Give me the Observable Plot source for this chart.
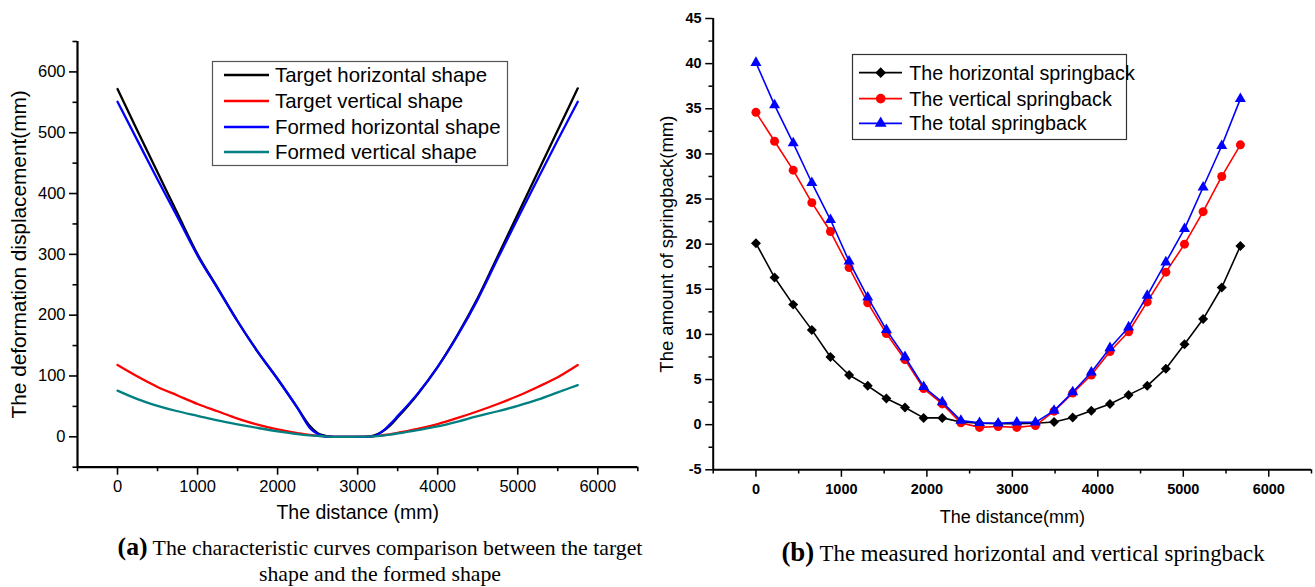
<!DOCTYPE html>
<html><head><meta charset="utf-8">
<script src="https://cdn.jsdelivr.net/npm/d3@7"></script>
<script src="https://cdn.jsdelivr.net/npm/@observablehq/plot@0.6"></script>
<style>
body{margin:0;background:#fff;}
#wrap{position:relative;width:1315px;height:587px;overflow:hidden;font-family:"Liberation Sans",Arial,sans-serif;background:#fff;}
.chart{position:absolute;top:0;}
.legend{position:absolute;overflow:visible;}
.caption{position:absolute;font-family:"Liberation Serif","Times New Roman",serif;text-align:center;line-height:26px;white-space:nowrap;color:#000;}
.caption b{font-size:1.18em;}
</style></head><body>
<div id="wrap">
  <div id="chartA" class="chart" style="left:0px"></div>
  <div id="chartB" class="chart" style="left:650px"></div>
  <svg id="legendA" class="legend" style="left:212px;top:61px" width="300" height="106"></svg>
  <svg id="legendB" class="legend" style="left:852px;top:54px" width="300" height="88"></svg>
  <div class="caption" style="left:80px;top:534px;width:600px;font-size:21.8px;"><b>(a)</b> The characteristic curves comparison between the target<br>shape and the formed shape</div>
  <div class="caption" style="left:723px;top:539px;width:600px;font-size:22.8px;"><b>(b)</b> The measured horizontal and vertical springback</div>
</div>
<script>
// ---------- (a) shape curves ----------
const shapeDistance = [0,250,500,750,1000,1250,1500,1750,2000,2250,2400,2500,2600,2700,2900,3100,3200,3300,3400,3500,3750,4000,4250,4500,4750,5000,5250,5500,5750];
const targetHorizontal = [572,503,435,367,300,245,190,140,95,47,18,6,1.5,0,0,0,2,8,18,32,70,115,168,228,297,366,435,504,573];
const targetVertical   = [118,99,82,68,54,42,30,20,12,6,3,1.8,0.8,0,0,0.3,1,2.5,4,6.5,13,21,31,42,54,67,82,98,118];
const formedHorizontal = [551,487,423,361,298,244,190,140,95,47,15,4.5,0.5,0,0,0,1,8,20,34,71,115,167,226,293,359,424,488,551];
const formedVertical   = [76,62,51,42,34.5,27,20.5,14.5,9,4.5,2.5,1.5,0.6,0,0,0.2,0.8,2,3.5,5.5,11,17,25,34,42,51,61,73,85];
const shapeNames  = ["Target horizontal shape","Target vertical shape","Formed horizontal shape","Formed vertical shape"];
const shapeColors = ["#000000","#ff0000","#0000ff","#008080"];
const shapeXTicks = [0,1000,2000,3000,4000,5000,6000];
const shapeYTicks = [0,100,200,300,400,500,600];

// ---------- (b) springback ----------
const springDistance = [0,218,436,654,872,1090,1308,1526,1744,1962,2180,2398,2616,2834,3052,3270,3488,3706,3924,4142,4360,4578,4796,5014,5232,5450,5668];
const horizontalSpringback = [20.1,16.3,13.3,10.5,7.5,5.5,4.3,2.9,1.9,0.75,0.75,0.3,0.15,0.1,0.1,0.15,0.3,0.8,1.55,2.3,3.3,4.3,6.2,8.9,11.7,15.2,19.8];
const verticalSpringback   = [34.6,31.4,28.2,24.6,21.4,17.4,13.5,10.1,7.2,4.0,2.3,0.2,-0.3,-0.2,-0.3,-0.1,1.5,3.5,5.5,8.1,10.3,13.6,16.9,20.0,23.6,27.5,31.0];
const totalSpringback      = [40.1,35.4,31.2,26.8,22.7,18.1,14.1,10.5,7.5,4.2,2.5,0.45,0.2,0.15,0.25,0.25,1.55,3.6,5.8,8.5,10.8,14.3,18.0,21.7,26.3,30.9,36.1];
const springNames   = ["The horizontal springback","The vertical springback","The total springback"];
const springColors  = ["#000000","#ff0000","#0000ff"];
const springSymbols = ["diamond2","circle","triangle"];
const springXTicks = [0,1000,2000,3000,4000,5000,6000];
const springYTicks = [-5,0,5,10,15,20,25,30,35,40,45];

const sans = "'Liberation Sans', Arial, sans-serif";
const plain = d => String(d);

// ---- chart A ----
const shapeSeries = [targetHorizontal, targetVertical, formedHorizontal, formedVertical];
const xMinorA = d3.range(-500, 6501, 500).filter(v => !shapeXTicks.includes(v));
const yMinorA = d3.range(-50, 651, 50).filter(v => !shapeYTicks.includes(v));
const chartA = Plot.plot({
  width: 650, height: 530,
  marginLeft: 77, marginRight: 12.7, marginTop: 41, marginBottom: 63.3,
  x: {domain: [-500, 6500]},
  y: {domain: [-50, 650]},
  style: {fontFamily: sans, fontSize: "16.5px", color: "#000", background: "transparent"},
  marks: [
    Plot.axisX({ticks: shapeXTicks, tickFormat: plain, tickSize: 8, tickPadding: 5, label: null, fontSize: 16.5, strokeWidth: 1.6}),
    Plot.axisX({ticks: xMinorA, tickSize: 4.5, tickFormat: () => "", label: null, strokeWidth: 1.6}),
    Plot.axisY({ticks: shapeYTicks, tickFormat: plain, tickSize: 8, tickPadding: 4, label: null, fontSize: 16.5, strokeWidth: 1.6}),
    Plot.axisY({ticks: yMinorA, tickSize: 4.5, tickFormat: () => "", label: null, strokeWidth: 1.6}),
    Plot.ruleX([-500], {strokeWidth: 2.2}),
    Plot.ruleY([-50], {strokeWidth: 2.2}),
    ...[0,1,2,3].map(k => Plot.line(shapeDistance, {
      x: d => d, y: (d, i) => shapeSeries[k][i],
      stroke: shapeColors[k], strokeWidth: 2.3, curve: "monotone-x"
    })),
    Plot.text(["The distance (mm)"], {text: d => d, frameAnchor: "bottom", dy: 52, fontSize: 19.5}),
    Plot.text(["The deformation displacement(mm)"], {text: d => d, frameAnchor: "left", textAnchor: "middle", rotate: -90, dx: -58, fontSize: 20.8})
  ]
});
document.getElementById("chartA").append(chartA);

// ---- chart B ----
const springSeries = [horizontalSpringback, verticalSpringback, totalSpringback];
const xMinorB = d3.range(-500, 6501, 500).filter(v => !springXTicks.includes(v));
const yMinorB = d3.range(-5, 45.01, 2.5).filter(v => !springYTicks.includes(v));
const symbolR = [4.5, 4.5, 4.1];
const chartB = Plot.plot({
  width: 665, height: 530,
  marginLeft: 62.7, marginRight: 4, marginTop: 18, marginBottom: 60.7,
  x: {domain: [-500, 6500]},
  y: {domain: [-5, 45]},
  style: {fontFamily: sans, fontSize: "14.5px", color: "#000", background: "transparent"},
  marks: [
    Plot.axisX({ticks: springXTicks, tickFormat: plain, tickSize: 7.5, tickPadding: 6, label: null, fontSize: 14.5, fontWeight: "bold", strokeWidth: 1.5}),
    Plot.axisX({ticks: xMinorB, tickSize: 4.2, tickFormat: () => "", label: null, strokeWidth: 1.5}),
    Plot.axisY({ticks: springYTicks, tickFormat: plain, tickSize: 7.5, tickPadding: 4, label: null, fontSize: 14.5, fontWeight: "bold", strokeWidth: 1.5}),
    Plot.axisY({ticks: yMinorB, tickSize: 4.2, tickFormat: () => "", label: null, strokeWidth: 1.5}),
    Plot.ruleX([-500], {strokeWidth: 2}),
    Plot.ruleY([-5], {strokeWidth: 2}),
    ...[0,1,2].flatMap(k => [
      Plot.line(springDistance, {x: d => d, y: (d, i) => springSeries[k][i], stroke: springColors[k], strokeWidth: 1.6}),
      Plot.dot(springDistance, {x: d => d, y: (d, i) => springSeries[k][i], fill: springColors[k], stroke: "none", symbol: springSymbols[k], r: symbolR[k]})
    ]),
    Plot.text(["The distance(mm)"], {text: d => d, frameAnchor: "bottom", dy: 53, fontSize: 18}),
    Plot.text(["The amount of springback(mm)"], {text: d => d, frameAnchor: "left", textAnchor: "middle", rotate: -90, dx: -46, fontSize: 18.5})
  ]
});
document.getElementById("chartB").append(chartB);

// ---- legends ----
(function() {
  const svg = d3.select("#legendA");
  svg.append("rect").attr("x", 0.5).attr("y", 0.5).attr("width", 295).attr("height", 104)
    .attr("fill", "#fff").attr("stroke", "#555").attr("stroke-width", 1.2);
  const rowsY = [14, 40, 66, 91];
  shapeNames.forEach((name, k) => {
    svg.append("line").attr("x1", 12).attr("x2", 57).attr("y1", rowsY[k]).attr("y2", rowsY[k])
      .attr("stroke", shapeColors[k]).attr("stroke-width", 2.3);
    svg.append("text").attr("x", 63).attr("y", rowsY[k]).attr("dy", "0.35em")
      .attr("font-family", sans).attr("font-size", 20.4).text(name);
  });
})();
(function() {
  const svg = d3.select("#legendB");
  svg.append("rect").attr("x", 0.5).attr("y", 0.5).attr("width", 274).attr("height", 85)
    .attr("fill", "#fff").attr("stroke", "#333").attr("stroke-width", 1.2);
  const rowsY = [18.7, 44.7, 69.3];
  const sym = {diamond2: d3.symbolDiamond2, circle: d3.symbolCircle, triangle: d3.symbolTriangle};
  springNames.forEach((name, k) => {
    svg.append("line").attr("x1", 7).attr("x2", 50).attr("y1", rowsY[k]).attr("y2", rowsY[k])
      .attr("stroke", springColors[k]).attr("stroke-width", 1.8);
    svg.append("path").attr("d", d3.symbol(sym[springSymbols[k]], Math.PI * symbolR[k] * symbolR[k] * 1.15)())
      .attr("transform", `translate(28.7,${rowsY[k]})`).attr("fill", springColors[k]);
    svg.append("text").attr("x", 57.3).attr("y", rowsY[k]).attr("dy", "0.35em")
      .attr("font-family", sans).attr("font-size", 19.7).text(name);
  });
})();
</script>
</body></html>
